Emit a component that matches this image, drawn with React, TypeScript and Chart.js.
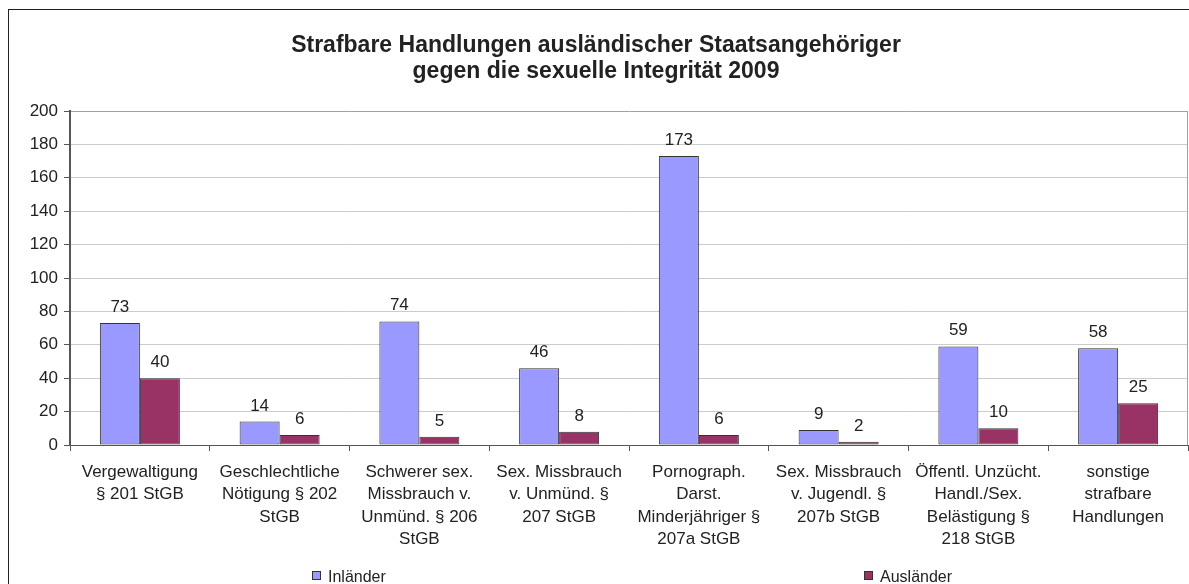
import React, { useEffect, useRef } from "react";
import { Chart, registerables } from "chart.js";

Chart.register(...registerables);

const titleLines = [
  "Strafbare Handlungen ausländischer Staatsangehöriger",
  "gegen die sexuelle Integrität 2009",
];

const categories: string[][] = [
  ["Vergewaltigung", "§ 201 StGB"],
  ["Geschlechtliche", "Nötigung § 202", "StGB"],
  ["Schwerer sex.", "Missbrauch v.", "Unmünd. § 206", "StGB"],
  ["Sex. Missbrauch", "v. Unmünd. §", "207 StGB"],
  ["Pornograph.", "Darst.", "Minderjähriger §", "207a StGB"],
  ["Sex. Missbrauch", "v. Jugendl. §", "207b StGB"],
  ["Öffentl. Unzücht.", "Handl./Sex.", "Belästigung §", "218 StGB"],
  ["sonstige", "strafbare", "Handlungen"],
];

const inlaender = [73, 14, 74, 46, 173, 9, 59, 58];
const auslaender = [40, 6, 5, 8, 6, 2, 10, 25];

const seriesNames = ["Inländer", "Ausländer"];
const seriesColors = ["#9999FF", "#993366"];

const yMin = 0;
const yMax = 200;
const yStep = 20;

const FONT = "'Liberation Sans', Arial, sans-serif";

const overlayPlugin = {
  id: "overlay",
  afterDatasetsDraw(chart: any) {
    const ctx = chart.ctx;
    ctx.save();
    ctx.font = `17px ${FONT}`;
    ctx.fillStyle = "#222";
    ctx.textAlign = "center";
    ctx.textBaseline = "alphabetic";
    chart.data.datasets.forEach((ds: any, di: number) => {
      const meta = chart.getDatasetMeta(di);
      meta.data.forEach((bar: any, i: number) => {
        ctx.fillText(String(ds.data[i]), bar.x, bar.y - 11);
      });
    });
    // right edge of plot area
    const ca = chart.chartArea;
    ctx.strokeStyle = "#a0a0a0";
    ctx.lineWidth = 1;
    ctx.beginPath();
    ctx.moveTo(ca.right - 0.5, ca.top);
    ctx.lineTo(ca.right - 0.5, ca.bottom);
    ctx.stroke();
    ctx.restore();
  },
  afterDraw(chart: any) {
    const ctx = chart.ctx;
    ctx.save();
    // title
    ctx.font = `bold 23px ${FONT}`;
    ctx.fillStyle = "#222";
    ctx.textAlign = "center";
    ctx.textBaseline = "alphabetic";
    const cx = chart.width / 2 - 3;
    ctx.fillText(titleLines[0], cx, 42);
    ctx.fillText(titleLines[1], cx, 68);
    // legend
    ctx.font = `16px ${FONT}`;
    ctx.textAlign = "left";
    const legendX = [303, 855];
    seriesNames.forEach((name, i) => {
      const x = legendX[i];
      ctx.fillStyle = seriesColors[i];
      ctx.fillRect(x, 561, 9, 9);
      ctx.strokeStyle = "#333";
      ctx.lineWidth = 1;
      ctx.strokeRect(x + 0.5, 561.5, 8, 8);
      ctx.fillStyle = "#222";
      ctx.fillText(name, x + 16, 572);
    });
    ctx.restore();
  },
};

export default function App() {
  const canvasRef = useRef<HTMLCanvasElement | null>(null);

  useEffect(() => {
    if (!canvasRef.current) return;
    const chart = new Chart(canvasRef.current, {
      type: "bar",
      data: {
        labels: categories,
        datasets: [
          {
            label: seriesNames[0],
            data: inlaender,
            backgroundColor: seriesColors[0],
            borderColor: "#333",
            borderWidth: 1,
            borderSkipped: false,
            categoryPercentage: 0.5725,
            barPercentage: 1,
          },
          {
            label: seriesNames[1],
            data: auslaender,
            backgroundColor: seriesColors[1],
            borderColor: "#333",
            borderWidth: 1,
            borderSkipped: false,
            categoryPercentage: 0.5725,
            barPercentage: 1,
          },
        ],
      },
      options: {
        animation: false,
        responsive: true,
        maintainAspectRatio: false,
        layout: { padding: { top: 101, right: 1, bottom: 0, left: 0 } },
        plugins: {
          legend: { display: false },
          title: { display: false },
          tooltip: { enabled: false },
        },
        scales: {
          x: {
            afterFit: (s: any) => {
              s.height = 139;
            },
            grid: {
              drawOnChartArea: false,
              drawTicks: true,
              tickLength: 6,
              tickColor: "#555",
              offset: true,
            },
            border: { color: "#555", width: 1 },
            ticks: {
              autoSkip: false,
              maxRotation: 0,
              minRotation: 0,
              padding: 10,
              color: "#222",
              font: { family: FONT, size: 17, lineHeight: 1.32 },
            },
          },
          y: {
            min: yMin,
            max: yMax,
            afterFit: (s: any) => {
              s.width = 61;
            },
            grid: {
              color: (c: any) => (c.tick && c.tick.value === yMax ? "#a0a0a0" : "#cccccc"),
              tickColor: "#555",
              tickLength: 6,
              drawTicks: true,
            },
            border: { color: "#555", width: 2 },
            ticks: {
              stepSize: yStep,
              padding: 6,
              color: "#222",
              font: { family: FONT, size: 17 },
            },
          },
        },
      },
      plugins: [overlayPlugin],
    });
    return () => chart.destroy();
  }, []);

  return (
    <div
      style={{
        position: "fixed",
        left: 8,
        top: 9,
        width: 1181,
        height: 575,
        borderLeft: "1px solid #222",
        borderTop: "1px solid #222",
        boxSizing: "border-box",
        background: "#fff",
      }}
    >
      <div style={{ position: "relative", width: 1180, height: 574 }}>
        <canvas ref={canvasRef} />
      </div>
    </div>
  );
}
